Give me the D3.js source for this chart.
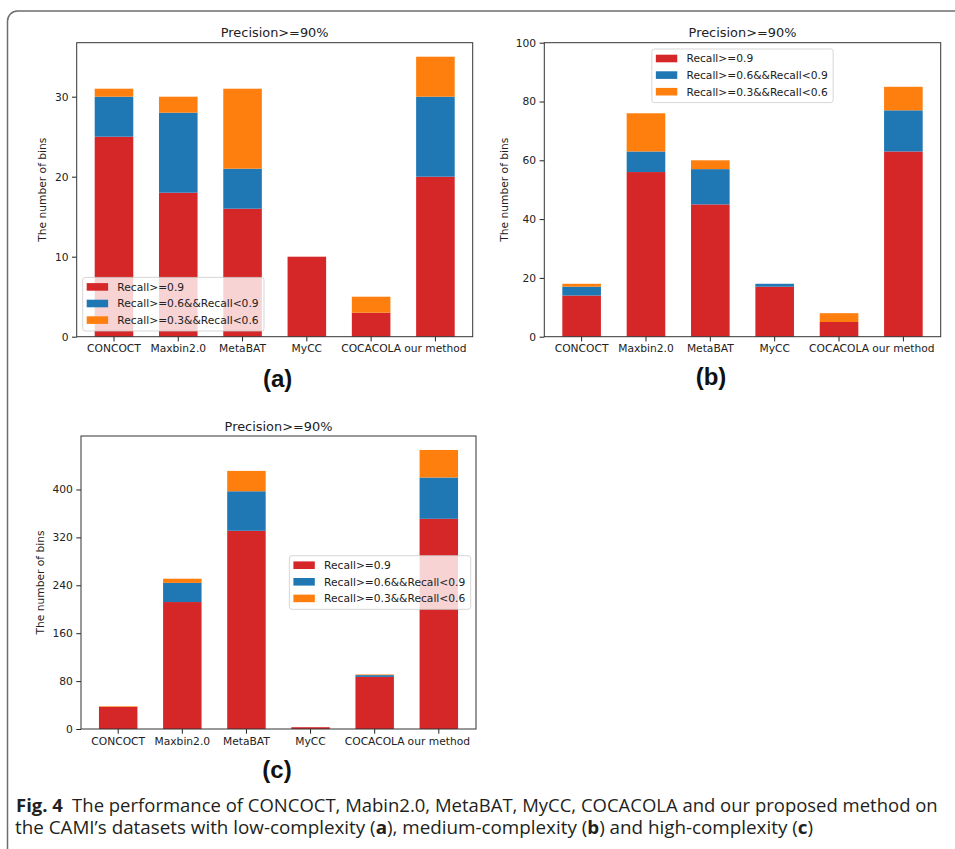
<!DOCTYPE html>
<html>
<head>
<meta charset="utf-8">
<script src="https://cdn.jsdelivr.net/npm/d3@7"></script>
<style>
  body { margin: 0; background: #fff; }
  svg { display: block; }
</style>
</head>
<body>
<script>
// methods on the x axis and the three recall classes
const methods = ['CONCOCT', 'Maxbin2.0', 'MetaBAT', 'MyCC', 'COCACOLA', 'our method']
const seriesNames = ['Recall>=0.9', 'Recall>=0.6&&Recall<0.9', 'Recall>=0.3&&Recall<0.6']
const seriesColors = ['#d62728', '#1f77b4', '#ff7f0e']

// (a) low complexity
const lowHigh = [25, 18, 16, 10, 3, 20]
const lowMid = [5, 10, 5, 0, 0, 10]
const lowLow = [1, 2, 10, 0, 2, 5]
const ticksA = [0, 10, 20, 30]

// (b) medium complexity
const medHigh = [14, 56, 45, 17, 5, 63]
const medMid = [3, 7, 12, 1, 0, 14]
const medLow = [1, 13, 3, 0, 3, 8]
const ticksB = [0, 20, 40, 60, 80, 100]

// (c) high complexity
const highHigh = [37, 212, 331, 3, 87, 351]
const highMid = [0, 32, 66, 0, 3, 69]
const highLow = [1, 7, 34, 0, 1, 46]
const ticksC = [0, 80, 160, 240, 320, 400]

const svg = d3.select('body').append('svg')
	.attr('width', 955)
	.attr('height', 849)

// outer frame of the figure, only the top left corner is visible
svg.append('rect')
	.attr('x', 7.5).attr('y', 11)
	.attr('width', 1000).attr('height', 900)
	.attr('rx', 10)
	.attr('fill', 'none')
	.attr('stroke', '#6e6e6e')
	.attr('stroke-width', 1.5)

const fontChart = 'DejaVu Sans, sans-serif'

function drawPanel(cfg) {
	const rows = methods.map((m, i) => ({ method: m, high: cfg.high[i], mid: cfg.mid[i], low: cfg.low[i] }))
	const stack = d3.stack().keys(['high', 'mid', 'low'])(rows)
	const total = d3.max(rows, d => d.high + d.mid + d.low)
	const yMax = cfg.yMax || total * 1.05

	const x = d3.scaleBand()
		.domain(methods)
		.range([cfg.left, cfg.right])
		.paddingInner(0.4)
		.paddingOuter(0.28)

	const y = d3.scaleLinear()
		.domain([0, yMax])
		.range([cfg.bottom, cfg.top])

	const g = svg.append('g')

	// bars
	g.selectAll('.layer')
		.data(stack)
		.enter()
		.append('g')
		.attr('fill', (d, i) => seriesColors[i])
		.selectAll('rect')
		.data(d => d)
		.enter()
		.append('rect')
		.attr('x', d => x(d.data.method))
		.attr('width', x.bandwidth())
		.attr('y', d => y(d[1]))
		.attr('height', d => y(d[0]) - y(d[1]))

	// axes
	const yAxis = g.append('g')
		.attr('transform', 'translate(' + cfg.left + ',0)')
		.call(d3.axisLeft(y).tickValues(cfg.ticks).tickSize(4.7).tickPadding(3.5))
	const xAxis = g.append('g')
		.attr('transform', 'translate(0,' + cfg.bottom + ')')
		.call(d3.axisBottom(x).tickSize(4.7).tickPadding(3.5))

	;[yAxis, xAxis].forEach(a => {
		a.select('.domain').remove()
		a.selectAll('line').attr('stroke', '#222').attr('stroke-width', 1)
		a.selectAll('text')
			.attr('fill', '#222')
			.style('font-family', fontChart)
			.style('font-size', '10.7px')
	})

	// spines
	g.append('rect')
		.attr('x', cfg.left).attr('y', cfg.top)
		.attr('width', cfg.right - cfg.left)
		.attr('height', cfg.bottom - cfg.top)
		.attr('fill', 'none')
		.attr('stroke', '#333')
		.attr('stroke-width', 1)

	// title
	g.append('text')
		.attr('x', (cfg.left + cfg.right) / 2)
		.attr('y', cfg.top - 5.5)
		.attr('text-anchor', 'middle')
		.attr('fill', '#222')
		.style('font-family', fontChart)
		.style('font-size', '12.9px')
		.text('Precision>=90%')

	// y label
	g.append('text')
		.attr('transform', 'translate(' + cfg.ylabelX + ',' + (cfg.top + cfg.bottom) / 2 + ') rotate(-90)')
		.attr('dy', '0.35em')
		.attr('text-anchor', 'middle')
		.attr('fill', '#222')
		.style('font-family', fontChart)
		.style('font-size', '10.7px')
		.text('The number of bins')

	// legend
	const lg = g.append('g')
	const box = lg.append('rect')
		.attr('fill', 'rgba(255,255,255,0.8)')
		.attr('stroke', 'rgba(204,204,204,0.8)')
		.attr('stroke-width', 1)
		.attr('rx', 2.5)
	const items = lg.selectAll('.item')
		.data(seriesNames)
		.enter()
		.append('g')
		.attr('transform', (d, i) => 'translate(0,' + (9.5 + i * 16.6) + ')')
	items.append('rect')
		.attr('x', 4).attr('y', -3.8)
		.attr('width', 21.4).attr('height', 7.6)
		.attr('fill', (d, i) => seriesColors[i])
	const labels = items.append('text')
		.attr('x', 34.6)
		.attr('dy', '0.36em')
		.attr('fill', '#222')
		.style('font-family', fontChart)
		.style('font-size', '10.7px')
		.text(d => d)
	let tw = 0
	labels.each(function () { tw = Math.max(tw, this.getComputedTextLength()) })
	const bw = 34.6 + tw + 5.4, bh = 53.6
	box.attr('width', bw).attr('height', bh)

	let lx, ly
	if (cfg.legend === 'lower left') {
		lx = cfg.left + 6; ly = cfg.bottom - 5.7 - bh
	} else if (cfg.legend === 'upper center') {
		lx = (cfg.left + cfg.right) / 2 - bw / 2; ly = cfg.top + 6.3
	} else {
		lx = cfg.right - 5.3 - bw; ly = (cfg.top + cfg.bottom) / 2 - bh / 2
	}
	lg.attr('transform', 'translate(' + lx + ',' + ly + ')')

	// panel letter
	g.append('text')
		.attr('x', cfg.letterX)
		.attr('y', cfg.letterY)
		.attr('text-anchor', 'middle')
		.attr('fill', '#111')
		.style('font-family', 'Liberation Sans, Arial, sans-serif')
		.style('font-weight', 'bold')
		.style('font-size', '24px')
		.text(cfg.letter)
}

drawPanel({
	high: lowHigh, mid: lowMid, low: lowLow, ticks: ticksA,
	left: 76.7, right: 472.7, top: 42.7, bottom: 336.7,
	ylabelX: 42.7, legend: 'lower left',
	letter: '(a)', letterX: 277.7, letterY: 387
})

drawPanel({
	high: medHigh, mid: medMid, low: medLow, ticks: ticksB, yMax: 100,
	left: 544.3, right: 940.7, top: 42.7, bottom: 336.7,
	ylabelX: 504.3, legend: 'upper center',
	letter: '(b)', letterX: 711, letterY: 385
})

drawPanel({
	high: highHigh, mid: highMid, low: highLow, ticks: ticksC,
	left: 81, right: 476, top: 436, bottom: 729,
	ylabelX: 40, legend: 'center right',
	letter: '(c)', letterX: 277, letterY: 778
})

// caption
const fontCaption = 'Open Sans, sans-serif'
const cap1 = svg.append('text')
	.attr('x', 16).attr('y', 812)
	.attr('fill', '#231f20')
	.style('font-family', fontCaption)
	.style('font-size', '18px')
	.attr('textLength', 921.7)
	.attr('lengthAdjust', 'spacingAndGlyphs')
cap1.append('tspan').style('font-weight', 'bold').text('Fig. 4')
cap1.append('tspan').attr('xml:space', 'preserve').text('\u2002The performance of CONCOCT, Mabin2.0, MetaBAT, MyCC, COCACOLA and our proposed method on')

const cap2 = svg.append('text')
	.attr('x', 15).attr('y', 834)
	.attr('fill', '#231f20')
	.style('font-family', fontCaption)
	.style('font-size', '18px')
	.attr('textLength', 798)
	.attr('lengthAdjust', 'spacingAndGlyphs')
cap2.append('tspan').text('the CAMI\u2019s datasets with low-complexity (')
cap2.append('tspan').style('font-weight', 'bold').text('a')
cap2.append('tspan').text('), medium-complexity (')
cap2.append('tspan').style('font-weight', 'bold').text('b')
cap2.append('tspan').text(') and high-complexity (')
cap2.append('tspan').style('font-weight', 'bold').text('c')
cap2.append('tspan').text(')')
</script>
</body>
</html>
